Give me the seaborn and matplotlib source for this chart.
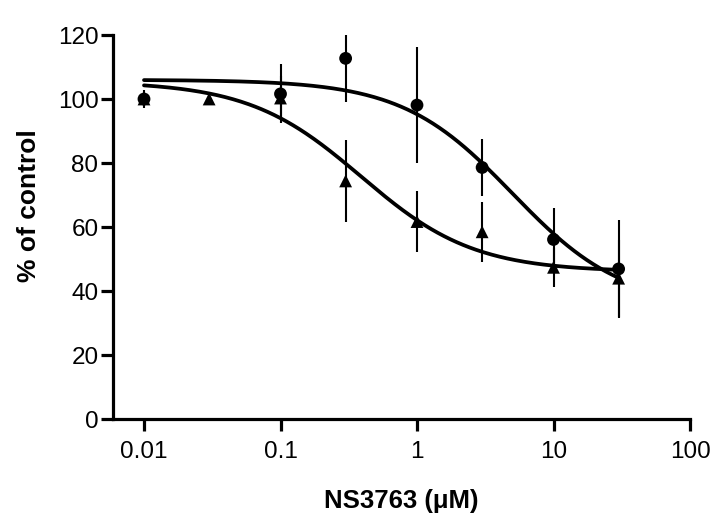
import numpy as np
import pandas as pd
import matplotlib
matplotlib.use("Agg")
import matplotlib.pyplot as plt
import seaborn as sns

# ---- data ----
circ_x = [0.01, 0.1, 0.3, 1, 3, 10, 30]
circ_y = [100.0, 101.6, 112.7, 98.1, 78.6, 56.1, 46.9]
circ_err = [2.8, 9.2, 13.7, 18.0, 8.9, 9.7, 15.3]

tri_x = [0.01, 0.03, 0.1, 0.3, 1, 3, 10, 30]
tri_y = [100.0, 100.0, 100.3, 74.4, 61.7, 58.5, 47.4, 44.0]
tri_err = [2.0, 0.8, 7.0, 12.7, 9.4, 9.4, 6.0, 12.0]

# four-parameter logistic fit parameters: top, bottom, EC50, hill
circ_fit = dict(top=106.0, bottom=35.0, ec50=5.0, hill=1.07)
tri_fit = dict(top=105.5, bottom=46.0, ec50=0.39, hill=1.05)

x_ticks = [0.01, 0.1, 1, 10, 100]
x_tick_labels = ["0.01", "0.1", "1", "10", "100"]
y_ticks = [0, 20, 40, 60, 80, 100, 120]


def hill(x, top, bottom, ec50, hill):
    return bottom + (top - bottom) / (1.0 + (x / ec50) ** hill)


sns.set_style("ticks")
plt.rcParams["font.family"] = ["Liberation Sans", "DejaVu Sans"]
plt.rcParams["text.color"] = "black"
plt.rcParams["axes.labelcolor"] = "black"
plt.rcParams["xtick.color"] = "black"
plt.rcParams["ytick.color"] = "black"
plt.rcParams["axes.edgecolor"] = "black"

fig = plt.figure(figsize=(7.18, 5.23), dpi=100)
ax = fig.add_axes([113 / 718, 1 - 419 / 523, (690 - 113) / 718, (419 - 35) / 523])

xs = np.logspace(np.log10(0.01), np.log10(30), 300)
curves = pd.concat([
    pd.DataFrame({"x": xs, "y": hill(xs, **circ_fit), "s": "circ"}),
    pd.DataFrame({"x": xs, "y": hill(xs, **tri_fit), "s": "tri"}),
])
sns.lineplot(data=curves, x="x", y="y", units="s", estimator=None,
             color="black", lw=2.7, ax=ax, zorder=3)

ax.errorbar(circ_x, circ_y, yerr=circ_err, fmt="none", ecolor="black",
            elinewidth=1.5, capsize=0, zorder=2)
ax.errorbar(tri_x, tri_y, yerr=tri_err, fmt="none", ecolor="black",
            elinewidth=1.5, capsize=0, zorder=2)

pts = pd.concat([
    pd.DataFrame({"x": circ_x, "y": circ_y, "s": "circ"}),
    pd.DataFrame({"x": tri_x, "y": tri_y, "s": "tri"}),
])
sns.scatterplot(data=pts, x="x", y="y", style="s", markers={"circ": "o", "tri": "^"},
                color="black", s=85, edgecolor="black", linewidth=0, legend=False,
                ax=ax, zorder=4)

ax.set_xscale("log")
ax.set_xlim(10 ** (-2 - 31 / 136.5), 100)
ax.set_ylim(0, 120)
ax.set_xticks(x_ticks)
ax.set_xticklabels(x_tick_labels)
ax.xaxis.set_minor_locator(matplotlib.ticker.NullLocator())
ax.set_yticks(y_ticks)

for side in ["top", "right"]:
    ax.spines[side].set_visible(False)
for side in ["left", "bottom"]:
    ax.spines[side].set_linewidth(2.3)
    ax.spines[side].set_color("black")
ax.tick_params(axis="both", length=8.5, width=2.3, labelsize=17.5,
               color="black", labelcolor="black")
ax.tick_params(axis="x", pad=7)
ax.tick_params(axis="y", pad=2)

ax.set_xlabel("NS3763 (μM)", fontsize=18.5, fontweight="bold", labelpad=19, color="black")
ax.set_ylabel("% of control", fontsize=19, fontweight="bold", color="black")
ax.yaxis.set_label_coords((41 - 113) / 577, (419 - 206) / 384)

fig.savefig("out.png", dpi=100)
